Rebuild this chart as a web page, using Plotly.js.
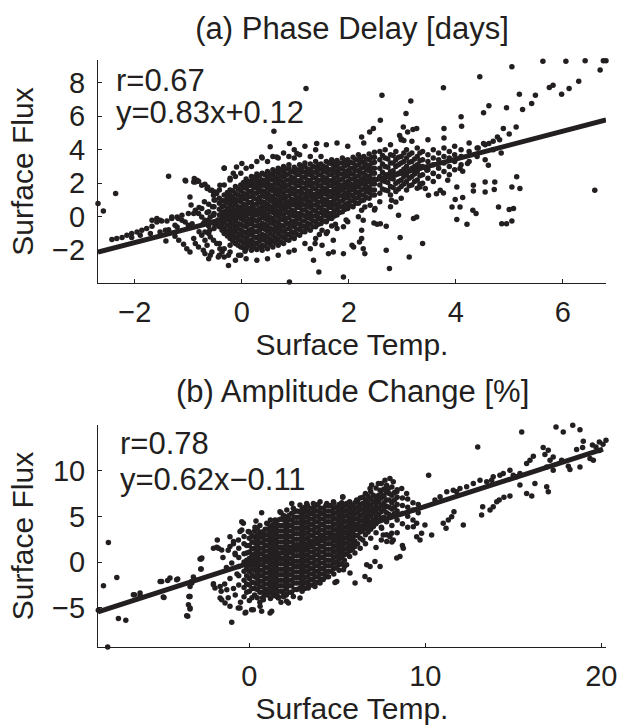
<!DOCTYPE html>
<html>
<head>
<meta charset="utf-8">
<script src="https://cdn.plot.ly/plotly-3.0.1.min.js"></script>
<style>html,body{margin:0;padding:0;background:#fff;}#chart{width:618px;height:726px;}</style>
</head>
<body>
<div id="chart"></div>
<script>
// ---------- Panel (a): Phase Delay [days] ----------
const phaseTitle = '(a) Phase Delay [days]';
const phaseStats = ['r=0.67', 'y=0.83x+0.12'];
const phaseFit = [0.83, 0.12];            // slope, intercept
const phaseXRange = [-2.69, 6.81];
const phaseYRange = [-3.95, 9.35];
const phaseXTicks = [-2, 0, 2, 4, 6];
const phaseYTicks = [-2, 0, 2, 4, 6, 8];

// dense core read column by column: [surface temp, [surface flux values]]
const phaseColumns = [
 [-0.62, [-1.0,-0.55,-0.2,0.3,0.75]],
 [-0.52, [-0.7,-0.3,0.2,0.6,1.0,1.4]],
 [-0.42, [-0.6,-0.25,0.1,0.45,0.8,1.1,-2.3,-1.6,1.6]],
 [-0.33, [-1.0,-0.7,-0.35,0.0,0.3,0.65,0.95,1.3,-2.4,-1.9,1.9,2.9]],
 [-0.22, [-1.3,-1.0,-0.65,-0.3,0.05,0.35,0.7,1.0,1.3,1.6,-2.1,-1.7,2.2]],
 [-0.12, [-1.6,-1.25,-0.9,-0.6,-0.25,0.1,0.4,0.75,1.05,1.4,1.8,-2.6,2.4]],
 [-0.02, [-1.8,-1.45,-1.1,-0.8,-0.45,-0.1,0.25,0.55,0.9,1.2,1.55,1.9,-2.3,2.6]],
 [0.08, [-1.9,-1.6,-1.3,-0.95,-0.6,-0.3,0.05,0.4,0.7,1.05,1.35,1.7,2.0,2.25,-2.5,2.9]],
 [0.18, [-2.0,-1.7,-1.4,-1.05,-0.75,-0.4,-0.1,0.2,0.55,0.85,1.2,1.5,1.85,2.15,2.4,3.0]],
 [0.28, [-1.95,-1.6,-1.25,-0.9,-0.55,-0.25,0.1,0.4,0.75,1.05,1.4,1.7,2.0,2.3,2.55,-2.6,3.3]],
 [0.38, [-2.0,-1.7,-1.35,-1.05,-0.7,-0.4,-0.05,0.25,0.6,0.9,1.25,1.55,1.9,2.2,2.6,3.5]],
 [0.48, [-1.9,-1.55,-1.2,-0.85,-0.55,-0.2,0.1,0.45,0.75,1.1,1.4,1.75,2.05,2.35,2.7,-2.5,3.3]],
 [0.58, [-1.8,-1.45,-1.1,-0.75,-0.4,-0.1,0.25,0.55,0.9,1.2,1.55,1.85,2.2,2.5,2.8,3.6]],
 [0.68, [-1.7,-1.35,-1.0,-0.65,-0.35,0.0,0.3,0.65,0.95,1.3,1.6,1.95,2.25,2.6,2.9,-2.3,3.5]],
 [0.78, [-1.6,-1.25,-0.9,-0.55,-0.2,0.1,0.45,0.75,1.1,1.4,1.75,2.05,2.4,2.7,3.0,3.8]],
 [0.88, [-1.4,-1.05,-0.7,-0.4,-0.05,0.25,0.6,0.9,1.25,1.55,1.9,2.2,2.55,2.85,3.1,-2.1,3.6]],
 [0.98, [-1.3,-0.95,-0.6,-0.3,0.05,0.35,0.7,1.0,1.35,1.65,2.0,2.3,2.65,2.95,-2.0,3.5,4.0]],
 [1.08, [-1.1,-0.75,-0.45,-0.1,0.2,0.55,0.85,1.2,1.5,1.85,2.15,2.5,2.8,3.1,3.7]],
 [1.18, [-0.9,-0.6,-0.25,0.05,0.4,0.7,1.05,1.35,1.7,2.0,2.35,2.65,3.0,3.2,-1.6,4.2]],
 [1.28, [-0.8,-0.45,-0.1,0.2,0.55,0.85,1.2,1.5,1.85,2.15,2.5,2.8,3.15,3.6]],
 [1.38, [-0.6,-0.3,0.05,0.35,0.7,1.0,1.35,1.65,2.0,2.3,2.65,2.95,3.3,-1.3,4.0]],
 [1.48, [-0.4,-0.1,0.25,0.55,0.9,1.2,1.55,1.85,2.2,2.5,2.85,3.15,3.6]],
 [1.58, [-0.3,0.05,0.35,0.7,1.0,1.35,1.65,2.0,2.3,2.65,2.95,3.3,-1.0,4.3]],
 [1.68, [-0.1,0.2,0.55,0.85,1.2,1.5,1.85,2.15,2.5,2.8,3.15,3.4]],
 [1.78, [0.1,0.45,0.75,1.1,1.4,1.75,2.05,2.4,2.7,3.05,3.35,-0.7,4.4]],
 [1.88, [0.3,0.6,0.95,1.25,1.6,1.9,2.25,2.55,2.9,3.2,3.5]],
 [1.98, [0.5,0.8,1.15,1.45,1.8,2.1,2.45,2.75,3.1,3.4,-0.3,4.2]],
 [2.08, [0.6,0.95,1.25,1.6,1.9,2.25,2.55,2.9,3.2,3.55]],
 [2.18, [0.8,1.15,1.45,1.8,2.1,2.45,2.75,3.1,3.4,3.7,0.0]],
 [2.28, [1.0,1.3,1.65,1.95,2.3,2.6,2.95,3.25,3.6,4.4]],
 [2.38, [1.1,1.45,1.75,2.1,2.4,2.75,3.05,3.4,3.75]],
 [2.48, [1.3,1.6,1.95,2.25,2.6,2.9,3.25,3.55,3.85,0.4]],
 [2.58, [1.4,1.9,2.4,2.9,3.4,3.9,0.9,4.6]],
 [2.68, [1.6,2.1,2.5,3.0,3.5,4.0]],
 [2.78, [1.3,1.8,2.3,2.7,3.2,3.7,0.6,4.3]],
 [2.88, [1.5,2.0,2.5,3.0,3.4,3.9]],
 [2.98, [1.8,2.2,2.7,3.2,3.6,4.6,1.1]],
 [3.08, [1.6,2.1,2.5,3.0,3.5,4.0]],
 [3.18, [1.9,2.4,2.9,3.3,3.8,4.5]],
 [3.28, [1.7,2.2,2.7,3.1,3.6,4.1]],
 [3.38, [2.0,2.5,3.0,3.4,3.9]],
 [3.48, [2.3,2.8,3.3,3.7,4.6]],
 [3.58, [2.1,2.6,3.1,3.5,4.0]],
 [3.68, [2.4,2.9,3.4,3.8]],
 [3.78, [2.7,3.2,3.6,4.1,4.7]],
 [3.88, [2.5,3.0,3.5,3.9]],
 [3.98, [2.8,3.3,3.7,4.2]],
 [4.10, [3.1,3.6,4.0]],
 [4.25, [3.3,3.9,4.4]],
 [4.40, [3.6,4.1]],
 [4.55, [3.4,4.3]],
 [4.70, [4.0,4.5]],
 [4.85, [3.8]]
];
// second, staggered set of core columns (between the ones above)
const phaseColumnsStagger = [
 [-0.37, [-0.8,-0.45,-0.1,0.25,0.6,0.95]],
 [-0.27, [-1.15,-0.85,-0.5,-0.15,0.2,0.5,0.85,1.15,1.45]],
 [-0.17, [-1.45,-1.1,-0.8,-0.45,-0.1,0.25,0.55,0.9,1.2,1.55]],
 [-0.07, [-1.7,-1.35,-1.05,-0.7,-0.4,-0.05,0.3,0.6,0.95,1.3,1.65]],
 [0.03, [-1.85,-1.55,-1.2,-0.9,-0.55,-0.2,0.1,0.45,0.75,1.1,1.4,1.75,2.05]],
 [0.13, [-1.75,-1.45,-1.1,-0.8,-0.45,-0.15,0.2,0.5,0.85,1.2,1.5,1.85,2.1]],
 [0.23, [-1.85,-1.55,-1.2,-0.9,-0.55,-0.2,0.1,0.45,0.75,1.1,1.4,1.75,2.05,2.35]],
 [0.33, [-1.8,-1.45,-1.15,-0.8,-0.5,-0.15,0.2,0.5,0.85,1.15,1.5,1.8,2.1,2.45]],
 [0.43, [-1.75,-1.4,-1.1,-0.75,-0.45,-0.1,0.2,0.55,0.85,1.2,1.5,1.85,2.15,2.5]],
 [0.53, [-1.65,-1.35,-1.0,-0.7,-0.35,-0.05,0.3,0.6,0.95,1.25,1.6,1.9,2.25,2.55]],
 [0.63, [-1.55,-1.25,-0.9,-0.6,-0.25,0.1,0.4,0.75,1.05,1.4,1.7,2.05,2.35,2.7]],
 [0.73, [-1.5,-1.15,-0.8,-0.5,-0.15,0.2,0.5,0.85,1.15,1.5,1.8,2.15,2.45,2.8]],
 [0.83, [-1.35,-1.05,-0.75,-0.4,-0.1,0.25,0.55,0.9,1.2,1.55,1.85,2.2,2.5,2.85]],
 [0.93, [-1.2,-0.9,-0.55,-0.25,0.1,0.4,0.75,1.05,1.4,1.7,2.05,2.35,2.7]],
 [1.03, [-1.05,-0.75,-0.4,-0.1,0.2,0.55,0.85,1.2,1.5,1.85,2.15,2.5,2.8]],
 [1.13, [-0.9,-0.55,-0.25,0.1,0.4,0.75,1.05,1.4,1.7,2.05,2.35,2.7,3.0]],
 [1.23, [-0.7,-0.4,-0.05,0.25,0.6,0.9,1.25,1.55,1.9,2.2,2.55,2.85]],
 [1.33, [-0.6,-0.25,0.05,0.4,0.7,1.05,1.35,1.7,2.0,2.35,2.65,3.0]],
 [1.43, [-0.45,-0.1,0.2,0.55,0.85,1.2,1.5,1.85,2.15,2.5,2.8,3.1]],
 [1.53, [-0.25,0.1,0.4,0.75,1.05,1.4,1.7,2.05,2.35,2.7,3.0]],
 [1.63, [-0.1,0.2,0.55,0.85,1.2,1.5,1.85,2.15,2.5,2.8,3.2]],
 [1.73, [0.05,0.35,0.7,1.0,1.35,1.65,2.0,2.3,2.65,2.95,3.25]],
 [1.83, [0.25,0.6,0.9,1.25,1.55,1.9,2.2,2.55,2.85,3.2]],
 [1.93, [0.45,0.75,1.1,1.4,1.75,2.05,2.4,2.7,3.05,3.35]],
 [2.03, [0.65,0.95,1.3,1.6,1.95,2.25,2.6,2.9,3.25]],
 [2.13, [0.8,1.1,1.45,1.75,2.1,2.4,2.75,3.05,3.4]],
 [2.23, [0.95,1.3,1.6,1.95,2.25,2.6,2.9,3.25,3.5]],
 [2.33, [1.15,1.5,1.8,2.15,2.45,2.8,3.1,3.45]],
 [2.43, [1.3,1.6,1.95,2.25,2.6,2.9,3.2,3.55]],
 [2.63, [1.65,2.15,2.65,3.15,3.65]],
 [2.73, [1.55,2.05,2.5,2.95,3.45]],
 [2.83, [1.75,2.25,2.75,3.2,3.65]],
 [2.93, [1.65,2.1,2.6,3.1,3.55]],
 [3.03, [1.95,2.4,2.85,3.3,3.8]],
 [3.13, [1.85,2.3,2.75,3.25,3.7]],
 [3.23, [2.1,2.55,3.0,3.45]],
 [3.33, [1.95,2.45,2.9,3.35,3.8]]
];

// scattered points outside the core: [surface temp, surface flux]
const phaseScatter = [
 [6.81,9.3],[6.76,9.3],[6.70,8.75],[6.42,9.3],[6.06,9.28],[5.63,9.28],[5.05,8.94],[4.45,8.35],[3.77,7.69],[2.62,7.25],[1.20,7.65],
 [6.30,8.09],[6.12,7.65],[5.98,7.31],[5.82,7.85],[5.75,7.71],[5.49,7.25],[5.42,6.76],[5.25,6.40],[5.19,7.30],[4.95,6.50],[4.62,6.62],[4.52,6.20],
 [4.89,5.27],[5.0,4.93],[5.13,5.36],[4.10,5.96],[4.11,5.40],[3.78,5.27],[3.16,6.90],[3.07,6.16],[2.59,5.76],[2.46,5.27],[2.39,5.06],[2.24,4.76],
 [3.02,5.36],[3.10,5.06],[3.20,5.21],[3.27,5.27],[2.95,4.85],[2.98,4.65],[3.03,4.55],
 [4.62,4.37],[4.78,4.76],[4.82,4.6],[4.52,4.37],[4.42,4.1],
 [5.20,1.68],[5.14,2.38],[5.05,1.78],[6.60,1.58],[5.0,0.43],[5.08,0.49],[4.86,-0.41],[4.95,-0.41],[5.05,-0.25],[4.80,0.58],[4.61,3.07],
 [4.73,2.08],[4.72,1.62],[4.55,1.48],[4.55,2.08],[4.33,1.54],[4.33,1.88],[4.32,0.39],[4.38,0.19],[4.21,-0.45],[4.02,-0.17],[3.99,1.03],
 [4.08,0.59],[4.13,1.15],[3.93,0.59],[4.02,1.78],[3.77,1.42],[3.85,2.18],[4.22,3.18],[4.08,2.88],[4.13,2.72],
 [3.38,-1.60],[3.13,-2.40],[2.96,-1.24],[2.76,-3.09],[2.70,-2.00],[2.70,-0.57],[2.53,-0.45],[2.47,-0.37],[2.30,-2.20],[2.27,-1.90],
 [2.20,-1.50],[2.24,-1.30],[2.09,-1.80],[2.06,-1.70],[1.90,-3.59],[1.90,-2.20],[1.71,-1.40],[1.71,-2.10],[1.62,-2.20],[1.44,-3.29],
 [1.34,-2.60],[1.50,-1.70],[1.37,-1.60],[1.28,-1.90],
 [2.93,0.09],[3.21,-0.11],[3.27,-0.01],[2.80,0.99],[2.88,0.88],[3.49,1.28],[3.64,1.38],[3.71,1.58],[3.33,1.78],[3.43,1.68],
 [3.30,3.07],[3.46,2.78],[3.58,2.58],[2.59,-0.41],[2.49,0.49],[2.40,0.69],[2.30,0.59],[2.24,0.39],[2.27,-0.21],[2.24,-0.81],
 [1.95,-0.2],[1.9,-0.6],[1.75,-0.45],[1.6,-0.9],[1.68,-0.55],[1.5,-0.8],[1.45,-1.05],
 [-2.69,0.79],[-2.59,0.35],[-2.36,1.39],[-1.37,2.42],[-0.97,1.18],[-1.06,2.18],[-0.90,2.08],[-0.84,2.18],[-0.75,1.88],[-0.65,1.68],
 [-0.56,1.58],[-0.47,1.39],[-0.41,1.88],[-0.33,2.91],[-0.25,-2.90],[0.60,5.10],[0.89,-3.89],
 [-2.43,-1.36],[-2.34,-1.30],[-2.24,-1.24],[-2.15,-1.10],[-2.06,-1.00],[-1.96,-0.91],[-1.87,-0.81],[-1.78,-0.70],[-1.68,-0.57],
 [-1.59,-0.31],[-1.50,-0.25],[-1.40,-0.25],[-1.31,-0.11],[-1.21,-0.01],[-1.12,0.09],
 [-2.06,-1.24],[-1.90,-1.10],[-1.71,-1.00],[-1.53,-0.91],[-1.37,-0.77],[-1.21,-0.61],
 [-1.05,2.14],[-0.89,2.28],[-0.87,2.08],[-0.81,2.12],[-0.69,1.94],[-0.64,1.78],[-0.59,1.58],[-0.53,1.28],[-0.50,1.48],
 [-0.62,-2.50],[-0.59,-2.30],[-0.69,-2.20],[-0.56,-2.10],[-0.44,-2.40],[-0.37,-2.10],[-0.25,-2.30],
 [-0.97,-2.10],[-1.03,-1.90],[-1.09,-1.64],[-1.18,-1.40],[-1.25,-1.16],[-1.42,-1.44],
 [-0.81,-1.80],[-0.87,-1.60],[-0.90,-1.30],
 [-0.72,-2.00],[-0.65,-1.70],[-0.69,-1.40],[-0.75,-1.10],[-0.69,-0.91],[-0.59,-1.21],[-0.53,-1.40],[-0.47,-1.60],[-0.41,-1.90],
 [-0.06,-2.3],[0.06,-2.05],
 [-1.68,-0.21],[-1.59,-0.11],[-1.53,-0.21],[-1.43,-0.81],[-1.31,-0.01],[-1.25,-0.51],[-1.19,-0.11],[-1.12,-0.21],[-1.06,-0.31],
 [-1.00,-0.51],[-0.93,-0.41],[-0.87,0.39],[-0.81,0.19],[-0.75,-0.01],[-0.69,-0.21],[-0.75,0.49],[-0.59,-0.01],[-0.53,0.09],
 [-0.47,-0.41],[-0.41,-0.21],
 [-0.16,2.6],[-0.22,2.3],[-0.1,2.97],[0,3.18],[0.37,3.57],[0.53,4.17],[0.65,3.57],[0.89,4.37],[1.03,3.77],[1.40,4.37],
 [-0.9,0.2],[-0.8,0.55],[-0.7,0.9],[-0.65,0.25],[-0.55,0.6],[-0.5,-0.5],[-0.6,-0.8],[-0.8,-0.9],[-0.95,0.7],[-1.0,0.2],
 [-0.72,-0.4],[-0.5,1.0],[-0.45,-0.2]
];

// ---------- Panel (b): Amplitude Change [%] ----------
const ampTitle = '(b) Amplitude Change [%]';
const ampStats = ['r=0.78', 'y=0.62x\u22120.11'];
const ampFit = [0.62, -0.11];
const ampXRange = [-8.6, 20.27];
const ampYRange = [-9.3, 15];
const ampXTicks = [0, 10, 20];
const ampYTicks = [-5, 0, 5, 10];

const ampColumns = [
 [-0.6, [-2.5,-1.5,-0.5,0.5,1.5]],
 [-0.3, [-3.8,-2.8,-2.0,-1.0,0.0,0.9,2.0,2.8]],
 [0.0, [-4.2,-3.2,-2.5,-1.8,-1.0,-0.3,0.4,1.1,1.8,2.6,3.3]],
 [0.3, [-3.6,-2.9,-2.3,-1.6,-0.9,-0.3,0.3,0.9,1.5,2.1,2.7,3.4]],
 [0.6, [-4.4,-3.3,-2.7,-2.1,-1.5,-0.9,-0.3,0.3,0.9,1.5,2.1,2.7,3.3,4.0]],
 [0.9, [-3.6,-3.0,-2.4,-1.8,-1.2,-0.6,0.0,0.6,1.2,1.8,2.4,3.0,3.6]],
 [1.2, [-4.0,-3.3,-2.7,-2.1,-1.5,-0.9,-0.3,0.3,0.9,1.5,2.1,2.7,3.3,3.9,4.6]],
 [1.5, [-3.5,-2.9,-2.3,-1.7,-1.1,-0.5,0.1,0.7,1.3,1.9,2.5,3.1,3.7,4.3]],
 [1.8, [-4.4,-3.2,-2.6,-2.0,-1.4,-0.8,-0.2,0.4,1.0,1.6,2.2,2.8,3.4,4.0,4.7,5.4]],
 [2.1, [-3.6,-2.9,-2.3,-1.7,-1.1,-0.5,0.1,0.7,1.3,1.9,2.5,3.1,3.7,4.3,4.9]],
 [2.4, [-3.3,-2.6,-2.0,-1.4,-0.8,-0.2,0.4,1.0,1.6,2.2,2.8,3.4,4.0,4.6,5.3]],
 [2.7, [-3.0,-2.3,-1.7,-1.1,-0.5,0.1,0.7,1.3,1.9,2.5,3.1,3.7,4.3,4.9,5.6]],
 [3.0, [-3.2,-2.6,-2.0,-1.4,-0.8,-0.2,0.4,1.0,1.6,2.2,2.8,3.4,4.0,4.6,5.2,5.8]],
 [3.3, [-2.8,-2.2,-1.6,-1.0,-0.4,0.2,0.8,1.4,2.0,2.6,3.2,3.8,4.4,5.0,5.6,6.2]],
 [3.6, [-2.5,-1.9,-1.3,-0.7,-0.1,0.5,1.1,1.7,2.3,2.9,3.5,4.1,4.7,5.3,5.9]],
 [3.9, [-2.2,-1.6,-1.0,-0.4,0.2,0.8,1.4,2.0,2.6,3.2,3.8,4.4,5.0,5.6,6.3]],
 [4.2, [-1.9,-1.3,-0.7,-0.1,0.5,1.1,1.7,2.3,2.9,3.5,4.1,4.7,5.3,5.9]],
 [4.5, [-1.6,-1.0,-0.4,0.2,0.8,1.4,2.0,2.6,3.2,3.8,4.4,5.0,5.6,6.2]],
 [4.8, [-1.3,-0.7,-0.1,0.5,1.1,1.7,2.3,2.9,3.5,4.1,4.7,5.3,5.9,6.5]],
 [5.1, [-0.9,-0.3,0.3,0.9,1.5,2.1,2.7,3.3,3.9,4.5,5.1,5.7,6.3]],
 [5.4, [-0.5,0.2,0.8,1.4,2.0,2.6,3.2,3.8,4.4,5.0,5.6,6.2]],
 [5.7, [0.6,1.2,1.8,2.4,3.0,3.6,4.2,4.8,5.4,6.0,6.6]],
 [6.0, [1.0,1.7,2.3,2.9,3.5,4.1,4.7,5.3,5.9,6.5]],
 [6.3, [1.5,2.6,3.3,3.9,4.5,5.1,5.7,6.3,7.0]],
 [6.6, [2.0,3.0,3.7,4.3,4.9,5.5,6.1,6.8,7.5]],
 [6.9, [2.6,3.6,4.3,5.0,5.6,6.2,6.9,7.7]],
 [7.2, [1.6,3.2,4.2,4.9,5.6,6.3,7.0,8.1]],
 [7.5, [2.4,3.8,4.8,5.5,6.2,7.0,7.8,8.6]],
 [7.8, [3.0,4.4,5.4,6.1,6.8,7.6,8.4]],
 [8.1, [2.2,4.0,5.0,5.8,6.5,7.3,8.2]],
 [8.4, [3.2,4.6,5.6,6.3,7.1,7.9]],
 [8.7, [1.8,4.2,5.3,6.2,7.0]],
 [9.0, [3.8,5.0,6.0,6.9]],
 [9.3, [4.6,5.7,6.5]],
 [9.6, [5.4,6.3]]
];
const ampColumnsStagger = [
 [-0.15, [-3.3,-2.4,-1.5,-0.7,0.2,1.0,1.8]],
 [0.15, [-3.9,-2.9,-2.2,-1.4,-0.65,0.05,0.75,1.45,2.2,2.9]],
 [0.45, [-3.9,-3.0,-2.4,-1.8,-1.2,-0.6,0.0,0.6,1.2,1.8,2.4,3.0,3.7]],
 [0.75, [-3.9,-3.3,-2.7,-2.1,-1.5,-0.9,-0.3,0.3,0.9,1.5,2.1,2.7,3.3]],
 [1.05, [-3.6,-3.0,-2.4,-1.8,-1.2,-0.6,0.0,0.6,1.2,1.8,2.4,3.0,3.6,4.2]],
 [1.35, [-3.7,-3.1,-2.5,-1.9,-1.3,-0.7,-0.1,0.5,1.1,1.7,2.3,2.9,3.5,4.1]],
 [1.65, [-3.8,-3.2,-2.6,-2.0,-1.4,-0.8,-0.2,0.4,1.0,1.6,2.2,2.8,3.4,4.0,4.6]],
 [1.95, [-3.8,-3.2,-2.6,-2.0,-1.4,-0.8,-0.2,0.4,1.0,1.6,2.2,2.8,3.4,4.0,4.6,5.1]],
 [2.25, [-3.3,-2.6,-2.0,-1.4,-0.8,-0.2,0.4,1.0,1.6,2.2,2.8,3.4,4.0,4.6,5.1]],
 [2.55, [-3.0,-2.3,-1.7,-1.1,-0.5,0.1,0.7,1.3,1.9,2.5,3.1,3.7,4.3,4.9,5.5]],
 [2.85, [-2.9,-2.3,-1.7,-1.1,-0.5,0.1,0.7,1.3,1.9,2.5,3.1,3.7,4.3,4.9,5.5]],
 [3.15, [-2.9,-2.3,-1.7,-1.1,-0.5,0.1,0.7,1.3,1.9,2.5,3.1,3.7,4.3,4.9,5.5,6.0]],
 [3.45, [-2.5,-1.9,-1.3,-0.7,-0.1,0.5,1.1,1.7,2.3,2.9,3.5,4.1,4.7,5.3,5.9]],
 [3.75, [-2.2,-1.6,-1.0,-0.4,0.2,0.8,1.4,2.0,2.6,3.2,3.8,4.4,5.0,5.6,6.1]],
 [4.05, [-1.9,-1.3,-0.7,-0.1,0.5,1.1,1.7,2.3,2.9,3.5,4.1,4.7,5.3,5.9]],
 [4.35, [-1.6,-1.0,-0.4,0.2,0.8,1.4,2.0,2.6,3.2,3.8,4.4,5.0,5.6,6.2]],
 [4.65, [-1.0,-0.4,0.2,0.8,1.4,2.0,2.6,3.2,3.8,4.4,5.0,5.6,6.2]],
 [4.95, [-0.6,0.0,0.6,1.2,1.8,2.4,3.0,3.6,4.2,4.8,5.4,6.0]],
 [5.25, [-0.2,0.5,1.1,1.7,2.3,2.9,3.5,4.1,4.7,5.3,5.9,6.5]],
 [5.55, [0.9,1.5,2.1,2.7,3.3,3.9,4.5,5.1,5.7,6.3]],
 [5.85, [1.4,2.0,2.6,3.2,3.8,4.4,5.0,5.6,6.2]],
 [6.15, [2.0,2.9,3.6,4.2,4.8,5.4,6.0,6.6]],
 [6.45, [2.4,3.4,4.0,4.6,5.2,5.8,6.4,7.1]],
 [6.75, [3.3,4.0,4.6,5.3,5.9,6.5,7.2]],
 [7.05, [3.9,4.6,5.3,5.9,6.6,7.3]],
 [7.35, [4.5,5.2,5.9,6.6,7.3]],
 [7.65, [4.9,5.8,6.5,7.2,8.0]],
 [7.95, [5.2,6.0,6.8,7.5]],
 [8.25, [5.3,6.0,6.8,7.6]]
];

const ampScatter = [
 [-8.01,2.13],[-8.29,-2.60],[-7.53,-1.69],[-8.58,-5.29],[-8.05,-9.3],[-7.44,-6.19],[-7.02,-6.38],[-6.53,-3.58],[-6.21,-3.69],
 [-4.98,-2.13],[-4.64,-2.02],[-4.51,-1.76],[-4.85,-3.87],[-4.07,-1.87],[-3.41,-3.76],[-3.37,-5.14],[-3.50,-5.94],[-3.18,-1.65],
 [-3.09,-1.94],[-3.27,-2.30],[-3.37,-2.67],[-2.74,-0.77],[-2.74,0.32],[-2.04,1.52],[-2.04,-2.49],[-1.95,-2.85],
 [-6.59,-3.58],[-6.21,-3.39],[-5.07,-2.13],[-4.13,-1.94],[-3.27,-2.13],[-2.80,0.32],[-4.89,-3.83],[-3.56,-5.87],[-3.37,-5.03],[-3.37,-3.76],
 [-1.0,-6.59],[-1.82,2.42],[-1.76,1.52],[-2.04,-2.38],[-1.66,-2.67],[-1.66,-3.94],[-1.28,-3.03],[-1.57,-4.12],[-0.63,-5.03],
 [-0.34,4.24],[-0.53,3.33],[-0.90,2.24],[-1.10,1.69],[-0.81,0.97],
 [0.13,-5.21],[0.61,-4.85],[0.80,-4.12],[1.27,-5.39],[1.56,-3.76],[2.12,-4.30],[1.93,-3.39],[0.99,-3.39],
 [0.70,5.40],[-0.43,4.42],[0.38,4.49],[2.41,6.42],[5.31,7.08],[-3.46,-4.67],[-3.43,-3.76],[-2.70,0.43],[-2.76,-0.77],
 [-1.38,-4.49],[-1.10,-4.85],[-0.53,-5.03],[-0.24,-5.58],[0.23,-5.21],[0.70,-5.39],[1.18,-5.58],[1.65,-3.94],[2.22,-4.49],
 [2.50,-3.76],[2.88,-3.94],[3.35,-2.85],[3.73,-2.67],[4.02,-2.30],[4.40,-1.58],[4.87,-2.24],[5.35,-0.85],
 [-1.85,1.62],[-1.57,1.33],[-1.10,2.78],[-0.62,2.42],[-0.43,3.51],[-0.06,3.33],[0.32,3.81],[0.70,2.97],[0.99,4.24],[1.46,4.60],
 [1.74,5.51],[2.13,5.69],[2.50,5.88],[2.88,6.24],[3.26,6.42],[3.64,6.42],[4.02,6.60],[4.40,6.42],[4.78,6.60],[5.15,6.05],[5.53,6.42],
 [6.95,8.42],[7.33,8.60],[7.71,8.96],[7.99,9.15],[8.18,8.78],[7.43,7.87],[7.90,8.06],[8.38,7.69],[8.66,8.06],[8.94,7.51],
 [7.52,7.33],[7.24,6.97],[6.86,8.06],[5.31,7.14],[6.10,6.78],[6.48,6.42],[6.67,6.05],[6.19,5.88],
 [10.19,9.51],[12.98,12.60],[15.48,14.23],[17.43,14.78],[17.84,14.23],[18.38,14.96],[18.79,14.49],[20.27,13.33],[19.89,13.14],
 [18.98,13.22],[18.60,12.31],[18.94,12.53],[19.55,11.15],[19.36,11.33],
 [18.79,10.41],[18.13,10.49],[18.22,10.13],[17.27,10.05],[16.90,10.41],[17.09,11.15],[17.75,11.15],[17.27,11.51],[16.80,11.77],
 [16.99,12.24],[16.70,12.53],[16.14,11.58],[15.95,11.15],[15.76,10.79],
 [16.90,8.23],[16.99,7.69],[16.23,8.60],[16.05,7.22],[15.76,7.51],[15.38,8.42],[15.19,9.33],[15.38,9.69],[15.00,9.51],[14.81,10.05],
 [14.43,9.69],[14.24,9.51],[13.86,9.33],[13.77,8.96],[13.49,8.78],
 [14.81,7.22],[14.47,7.08],[14.20,6.78],[14.06,6.60],[13.86,6.05],[13.68,5.69],[13.26,6.05],[13.20,5.15],
 [10.55,6.78],[10.84,7.14],[11.22,7.69],[11.59,7.87],[11.97,8.06],[12.35,8.23],[12.73,8.60],[13.11,8.96],[11.78,7.69],
 [11.63,5.51],[11.50,4.96],[11.31,4.60],[11.18,3.69],[11.02,4.24],[12.16,4.06],[10.36,2.97],[9.98,4.06],[9.70,2.42],[9.79,3.15],
 [9.51,2.78],[9.32,3.87],[9.51,4.24],
 [8.75,1.52],[8.56,0.60],[8.38,0.43],[8.18,2.42],[8.09,3.15],[7.81,2.24],[7.99,2.78],[7.61,2.97],[7.52,3.69],[7.43,-0.49],
 [7.14,0.05],[6.86,-0.49],[6.67,-0.30],[6.57,-1.58],[6.82,-1.94],[6.01,-2.30],[5.72,-1.21],[5.53,-0.31],[4.97,-2.13],
 [19.7,12.6],[19.9,12.2],[20.1,12.9],[19.5,12.8],
 [-1.5,0.5],[-1.3,-0.6],[-1.1,-1.8],[-0.9,-2.9],[-0.8,0.8],[-1.2,1.3],[-1.0,-0.1],[-0.7,-1.3],[-1.4,-2.4],[-0.8,-3.6],
 [-1.6,-3.2],[-0.5,-4.4],[-1.2,-3.9],[-0.2,-5.5],[-0.9,2.0]
];

// ---------- build ----------
const INK = '#231f20';
const FONT = 'Liberation Sans, Arial, Helvetica, sans-serif';

function collect(columnSets, scatter) {
  const xs = [], ys = [];
  columnSets.forEach(cols => cols.forEach(c => c[1].forEach(v => { xs.push(c[0]); ys.push(v); })));
  scatter.forEach(p => { xs.push(p[0]); ys.push(p[1]); });
  return [xs, ys];
}
const [pX, pY] = collect([phaseColumns, phaseColumnsStagger], phaseScatter);
const [aX, aY] = collect([ampColumns, ampColumnsStagger], ampScatter);

const pLineX = [phaseXRange[0], phaseXRange[1]];
const pLineY = pLineX.map(x => phaseFit[0] * x + phaseFit[1]);
const aLineX = [ampXRange[0], 20.1];
const aLineY = aLineX.map(x => ampFit[0] * x + ampFit[1]);

const marker = {size: 5.5, color: INK, line: {width: 0}};
const traces = [
  {x: pX, y: pY, type: 'scatter', mode: 'markers', marker: marker, xaxis: 'x', yaxis: 'y', cliponaxis: false, hoverinfo: 'skip'},
  {x: pLineX, y: pLineY, type: 'scatter', mode: 'lines', line: {color: INK, width: 5}, xaxis: 'x', yaxis: 'y', hoverinfo: 'skip'},
  {x: aX, y: aY, type: 'scatter', mode: 'markers', marker: marker, xaxis: 'x2', yaxis: 'y2', cliponaxis: false, hoverinfo: 'skip'},
  {x: aLineX, y: aLineY, type: 'scatter', mode: 'lines', line: {color: INK, width: 5}, xaxis: 'x2', yaxis: 'y2', hoverinfo: 'skip'}
];

function axis(extra) {
  return Object.assign({
    showline: true, linecolor: INK, linewidth: 1,
    ticks: 'inside', ticklen: 4, tickwidth: 1, tickcolor: INK,
    showgrid: false, zeroline: false, automargin: false,
    tickfont: {family: FONT, size: 29, color: INK},
    tickmode: 'array'
  }, extra);
}
const titleFont = {family: FONT, size: 31, color: INK};
const labelFont = {family: FONT, size: 30, color: INK};

const layout = {
  width: 618, height: 726,
  margin: {l: 98, r: 12, t: 60, b: 79},
  paper_bgcolor: '#ffffff', plot_bgcolor: '#ffffff',
  showlegend: false,
  font: {family: FONT, size: 29, color: INK},
  title: {text: phaseTitle, font: titleFont, xref: 'paper', x: 0.5, xanchor: 'center', yref: 'container', y: 0.9614, yanchor: 'middle'},
  xaxis: axis({domain: [0, 1], anchor: 'y', range: phaseXRange, tickvals: phaseXTicks, ticklabelstandoff: 3,
    title: {text: 'Surface Temp.', font: labelFont, standoff: 2}}),
  yaxis: axis({domain: [0.6201, 1], anchor: 'x', range: phaseYRange, tickvals: phaseYTicks, ticklabelstandoff: 6,
    title: {text: 'Surface Flux', font: labelFont, standoff: 9}}),
  xaxis2: axis({domain: [0, 1], anchor: 'y2', range: ampXRange, tickvals: ampXTicks, ticklabelstandoff: 3,
    title: {text: 'Surface Temp.', font: labelFont, standoff: 1}}),
  yaxis2: axis({domain: [0, 0.3782], anchor: 'x2', range: ampYRange, tickvals: ampYTicks, ticklabelstandoff: 6,
    title: {text: 'Surface Flux', font: labelFont, standoff: 9}}),
  annotations: [
    {text: ampTitle, xref: 'paper', yref: 'paper', x: 0.5, y: 0.4361, xanchor: 'center', yanchor: 'middle', showarrow: false, font: titleFont},
    {text: phaseStats[0], xref: 'paper', yref: 'paper', x: 0.0315, y: 0.9659, xanchor: 'left', yanchor: 'middle', showarrow: false, font: titleFont},
    {text: phaseStats[1], xref: 'paper', yref: 'paper', x: 0.0315, y: 0.9114, xanchor: 'left', yanchor: 'middle', showarrow: false, font: titleFont},
    {text: ampStats[0], xref: 'paper', yref: 'paper', x: 0.0394, y: 0.3475, xanchor: 'left', yanchor: 'middle', showarrow: false, font: titleFont},
    {text: ampStats[1], xref: 'paper', yref: 'paper', x: 0.0394, y: 0.2845, xanchor: 'left', yanchor: 'middle', showarrow: false, font: titleFont}
  ]
};

Plotly.newPlot('chart', traces, layout, {staticPlot: true, displayModeBar: false});
</script>
</body>
</html>
